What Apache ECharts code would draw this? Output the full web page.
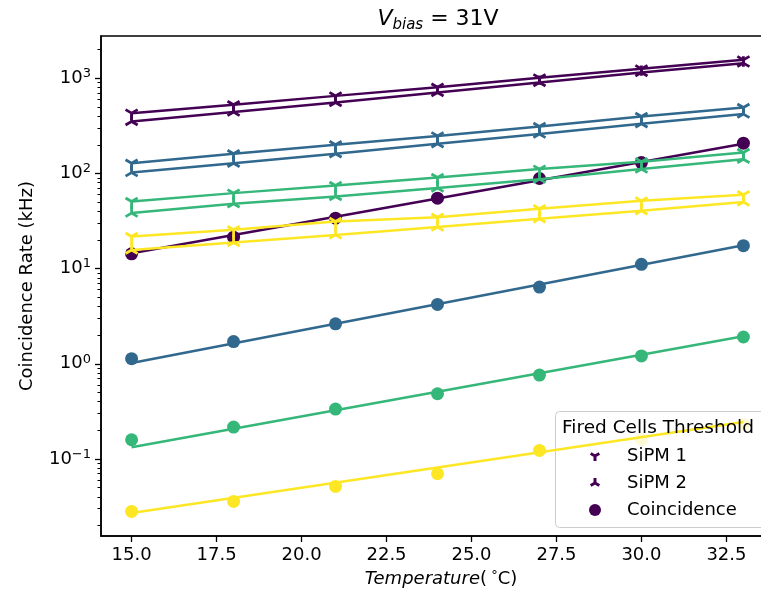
<!DOCTYPE html>
<html>
<head>
<meta charset="utf-8">
<script src="https://cdn.jsdelivr.net/npm/echarts@6/dist/echarts.min.js"></script>
<style>
  html, body { margin: 0; padding: 0; background: #fff; }
  #chart { width: 761px; height: 593px; }
</style>
</head>
<body>
<div id="chart"></div>
<script>
// temperatures (°C)
const temperatures = [15, 18, 21, 24, 27, 30, 33];
const fitRange = [15, 33];
const thresholdColors = ['#440154', '#31688e', '#35b779', '#fde725'];

// rates in kHz, one row per fired-cells threshold
const sipm1Rates = [
    [430, 526, 653, 806, 1010, 1256, 1561],
    [128, 161, 200, 248, 311, 396, 492],
    [50.7, 62.1, 74.6, 90.6, 111, 133, 166],
    [21.7, 25.6, 31.2, 34.7, 42.5, 51.5, 59.6]
];
const sipm2Rates = [
    [351, 441, 556, 708, 901, 1148, 1442],
    [102, 128, 161, 205, 259, 332, 420],
    [38.3, 48.0, 57.2, 70.1, 87.1, 111, 141],
    [15.7, 18.8, 22.6, 27.3, 33.4, 40.5, 50.0]
];
const coincidenceRates = [
    [14.3, 21.4, 33.9, 55.0, 88.5, 130, 208],
    [1.13, 1.71, 2.63, 4.2, 6.39, 11.1, 17.4],
    [0.159, 0.216, 0.334, 0.484, 0.760, 1.21, 1.91],
    [0.0281, 0.0358, 0.0514, 0.0699, 0.123, 0.16, 0.23]
];
// exponential fit of the coincidence rate, value at 15 and 33 °C
const coincidenceFits = [
    [14.5, 205],
    [1.02, 17.6],
    [0.133, 1.95],
    [0.027, 0.245]
];

const xTickValues = [15, 17.5, 20, 22.5, 25, 27.5, 30, 32.5];
const yTickValues = [0.1, 1, 10, 100, 1000];

const yMin = 0.0155, yMax = 2780;
const font = 'DejaVu Sans';

// minor log ticks 2..9 x 10^n
const yMinorTicks = [];
for (let e = -2; e <= 3; e++) {
    for (let m = 2; m <= 9; m++) {
        const v = m * Math.pow(10, e);
        if (v > yMin && v < yMax) yMinorTicks.push(v);
    }
}

// matplotlib style tri markers drawn as three thin arms
function triPath(dirs, r, w, box) {
    let d = '';
    dirs.forEach(([dx, dy]) => {
        const nx = -dy * w, ny = dx * w;
        const ex = dx * r, ey = dy * r;
        d += `M${-nx} ${-ny}L${ex - nx} ${ey - ny}L${ex + nx} ${ey + ny}L${nx} ${ny}Z`;
    });
    d += `M${-box} ${-box}L${-box} ${-box}ZM${box} ${box}L${box} ${box}Z`;
    return 'path://' + d;
}
const downDirs = [[0, 1], [0.866, -0.5], [-0.866, -0.5]];
const upDirs = [[0, -1], [0.866, 0.5], [-0.866, 0.5]];
const triDown = triPath(downDirs, 100, 20, 100);
const triUp = triPath(upDirs, 100, 20, 100);
const triDownLegend = triPath(downDirs, 100, 30, 120);
const triUpLegend = triPath(upDirs, 100, 30, 120);

const pairs = (xs, ys) => xs.map((x, i) => [x, ys[i]]);

const series = [];
thresholdColors.forEach((color, k) => {
    const first = k === 0;
    series.push({
        name: first ? 'SiPM 1' : 'SiPM 1 #' + k,
        type: 'line',
        data: pairs(temperatures, sipm1Rates[k]),
        symbol: triDown,
        symbolSize: 14,
        symbolKeepAspect: true,
        itemStyle: { color: color, borderWidth: 0 },
        lineStyle: { color: color, width: 2.5 }
    });
    series.push({
        name: first ? 'SiPM 2' : 'SiPM 2 #' + k,
        type: 'line',
        data: pairs(temperatures, sipm2Rates[k]),
        symbol: triUp,
        symbolSize: 14,
        symbolKeepAspect: true,
        itemStyle: { color: color, borderWidth: 0 },
        lineStyle: { color: color, width: 2.5 }
    });
    series.push({
        name: first ? 'Coincidence' : 'Coincidence #' + k,
        type: 'scatter',
        data: pairs(temperatures, coincidenceRates[k]),
        symbol: 'circle',
        symbolSize: 13,
        itemStyle: { color: color, opacity: 1 }
    });
    series.push({
        name: 'fit #' + k,
        type: 'line',
        data: pairs(fitRange, coincidenceFits[k]),
        symbol: 'none',
        lineStyle: { color: color, width: 2.5 }
    });
});

const chart = echarts.init(document.getElementById('chart'));

const option = {
    animation: false,
    grid: {
        left: 101,
        top: 36,
        width: 673,
        height: 500,
        outerBoundsMode: 'none',
        containLabel: false,
        show: true,
        borderColor: '#000',
        borderWidth: 1.5,
        backgroundColor: 'transparent'
    },
    xAxis: {
        type: 'value',
        min: 14.1,
        max: 33.9,
        splitLine: { show: false },
        axisLine: { show: true, onZero: false, lineStyle: { color: '#000', width: 1.5 } },
        axisTick: { show: true, customValues: xTickValues, length: 6, lineStyle: { color: '#000', width: 1.3 } },
        axisLabel: {
            customValues: xTickValues,
            formatter: v => v.toFixed(1),
            fontFamily: font,
            fontSize: 18,
            color: '#000',
            margin: 10
        }
    },
    yAxis: [
        {
            type: 'log',
            logBase: 10,
            min: yMin,
            max: yMax,
            splitLine: { show: false },
            axisLine: { show: true, lineStyle: { color: '#000', width: 1.5 } },
            axisTick: { show: true, customValues: yTickValues, length: 6, lineStyle: { color: '#000', width: 1.3 } },
            axisLabel: {
                customValues: yTickValues,
                margin: 10,
                formatter: v => {
                    const e = Math.round(Math.log10(v));
                    return '{b|10}{s|' + (e < 0 ? '\u2212' + (-e) : e) + '}';
                },
                rich: {
                    b: { fontFamily: font, fontSize: 18, color: '#000' },
                    s: { fontFamily: font, fontSize: 13, color: '#000', padding: [0, 0, 9, 0] }
                }
            }
        },
        {
            type: 'log',
            logBase: 10,
            min: yMin,
            max: yMax,
            position: 'left',
            splitLine: { show: false },
            axisLine: { show: false },
            axisLabel: { show: false },
            axisTick: { show: true, customValues: yMinorTicks, length: 3.5, lineStyle: { color: '#000', width: 1 } }
        }
    ],
    legend: {
        orient: 'vertical',
        left: 589,
        top: 446,
        padding: 0,
        itemGap: 7,
        itemWidth: 14,
        itemHeight: 12,
        selectedMode: false,
        textStyle: { fontFamily: font, fontSize: 18, color: '#000', lineHeight: 20, padding: [0, 0, 0, 20] },
        data: [
            { name: 'SiPM 1', icon: triDownLegend },
            { name: 'SiPM 2', icon: triUpLegend },
            { name: 'Coincidence', icon: 'circle' }
        ]
    },
    graphic: [
        {
            type: 'rect',
            z: 3,
            shape: { x: 555.5, y: 411.5, width: 230, height: 116, r: 4 },
            style: { fill: 'rgba(255,255,255,0.8)', stroke: '#cccccc', lineWidth: 1 }
        },
        {
            type: 'text',
            x: 438,
            y: 19,
            z: 100,
            style: {
                text: '{v|V}{s|bias}{n| = 31V}',
                align: 'center',
                verticalAlign: 'middle',
                rich: {
                    v: { fontFamily: font, fontSize: 22, fontStyle: 'italic', fill: '#000' },
                    s: { fontFamily: font, fontSize: 15, fontStyle: 'italic', fill: '#000', padding: [12, 0, 0, 0] },
                    n: { fontFamily: font, fontSize: 22, fill: '#000' }
                }
            }
        },
        {
            type: 'text',
            x: 27,
            y: 286,
            rotation: Math.PI / 2,
            z: 100,
            style: {
                text: 'Coincidence Rate (kHz)',
                fontFamily: font,
                fontSize: 18,
                fill: '#000',
                align: 'center',
                verticalAlign: 'middle'
            }
        },
        {
            type: 'text',
            x: 441,
            y: 579,
            z: 100,
            style: {
                text: '{i|Temperature}{n|(}{s| \u00b0}{n|C)}',
                align: 'center',
                verticalAlign: 'middle',
                rich: {
                    i: { fontFamily: font, fontSize: 18, fontStyle: 'italic', fill: '#000' },
                    n: { fontFamily: font, fontSize: 18, fill: '#000' },
                    s: { fontFamily: font, fontSize: 13, fill: '#000', padding: [0, 0, 6, 0] }
                }
            }
        },
        {
            type: 'text',
            x: 562,
            y: 428,
            z: 100,
            style: {
                text: 'Fired Cells Threshold',
                fontFamily: font,
                fontSize: 18.5,
                fill: '#000',
                align: 'left',
                verticalAlign: 'middle'
            }
        }
    ],
    series: series
};

chart.setOption(option);
</script>
</body>
</html>
